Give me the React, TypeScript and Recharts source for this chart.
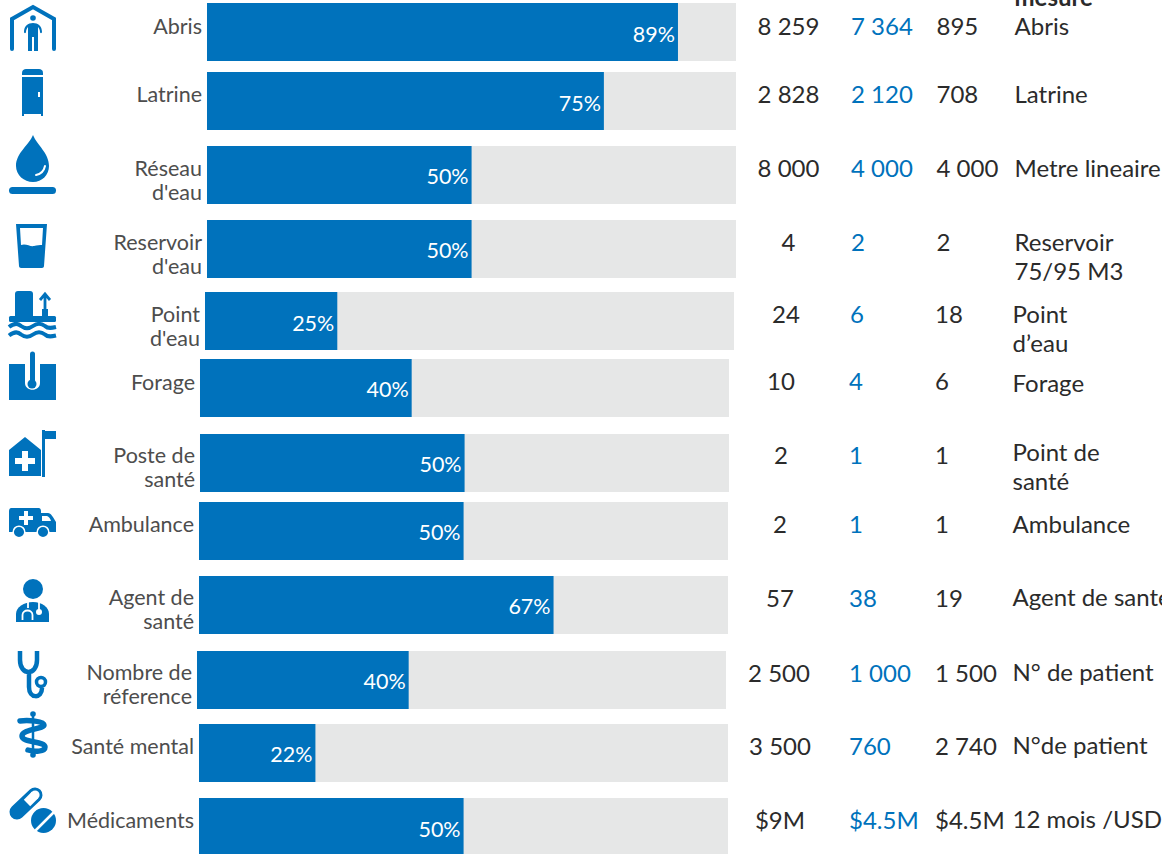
import React from 'react'
import { BarChart, Bar, XAxis, YAxis, LabelList } from 'recharts'

const categories = ['Abris','Latrine',"Réseau d'eau","Reservoir d'eau","Point d'eau",'Forage','Poste de santé','Ambulance','Agent de santé','Nombre de réference','Santé mental','Médicaments']
const labelLines = [['Abris'],['Latrine'],['Réseau',"d'eau"],['Reservoir',"d'eau"],['Point',"d'eau"],['Forage'],['Poste de','santé'],['Ambulance'],['Agent de','santé'],['Nombre de','réference'],['Santé mental'],['Médicaments']]
const percents = [89,75,50,50,25,40,50,50,67,40,22,50]
const targets = ['8 259','2 828','8 000','4','24','10','2','2','57','2 500','3 500','$9M']
const reached = ['7 364','2 120','4 000','2','6','4','1','1','38','1 000','760','$4.5M']
const remaining = ['895','708','4 000','2','18','6','1','1','19','1 500','2 740','$4.5M']
const units = [['Abris'],['Latrine'],['Metre lineaire'],['Reservoir','75/95 M3'],['Point','d’eau'],['Forage'],['Point de','santé'],['Ambulance'],['Agent de santé'],['N° de patient'],['N°de patient'],['12 mois /USD']]

// row placement, the rows are not on a regular grid in the original
const barLeft = [207,207,207,207,205,200,200,199,199,197,199,199]
const barTop = [3,72,146,220,292,359,434,502,576,651,724,798]
const barH = [58,58,58,58,58,58,58,58,58,58,58,56]
const numberY = [26,94,168,242,314,381,455,524,598,673,746,820]
const labelY = [27,95,169,243,315,383,456,525,598,673,747,821]
const targetX = [788.5,788.5,788.5,788.5,786,781,781,780,780,779,780,780]
const reachedX = [851,851,851,851,850,849,849,849,849,849,849,849]
const remainX = [936.5,936.5,936.5,936.5,935,935,935,935,935,935,935,935]
const unitX = [1014.5,1014.5,1014.5,1014.5,1012.5,1012.5,1012.5,1012.5,1012.5,1012.5,1012.5,1012.5]
const unitY = [26,94,168,242,314,383,452,524,597,672,745,819]
const pctDy = [2,2,1,1,2,1,1,1,1,1,1,3]
const BAR_W = 529.2

const BLUE = '#0072bc'
const GREY = '#e6e7e7'
const FONT = 'Lato, sans-serif'

function CategoryTick({ x, cy, lines }: any) {
  return (
    <text textAnchor="end" fontFamily={FONT} fontSize={21.5} fill="#4d4d4d">
      {lines.map((l: string, i: number) => (
        <tspan key={l} x={x + 3} y={cy + i * 24 + 7}>{l}</tspan>
      ))}
    </text>
  )
}

function Row({ i }: { i: number }) {
  const data = [{ name: categories[i], pct: percents[i] }]
  return (
    <div style={{ position: 'absolute', left: 0, top: barTop[i] }}>
      <BarChart layout="vertical" width={barLeft[i] + BAR_W} height={barH[i]} data={data} margin={{ top: 0, right: 0, bottom: 0, left: 0 }} barCategoryGap={0}>
        <XAxis type="number" domain={[0, 100]} hide />
        <YAxis type="category" dataKey="name" width={barLeft[i]} axisLine={false} tickLine={false} interval={0}
          tick={(p: any) => <CategoryTick x={p.x} cy={labelY[i] - barTop[i]} lines={labelLines[i]} />} />
        <Bar dataKey="pct" fill={BLUE} background={{ fill: GREY }} isAnimationActive={false}>
          <LabelList dataKey="pct" position="insideRight" offset={3} fill="#fff" fontSize={21.5} fontFamily={FONT} dy={pctDy[i]} formatter={(v: any) => v + '%'} />
        </Bar>
      </BarChart>
    </div>
  )
}

function Cell({ x, y, color, center, lines }: any) {
  return (
    <div style={{ position: 'absolute', left: center ? x - 60 : x, top: y - 15, width: center ? 120 : undefined, textAlign: center ? 'center' : 'left', color, fontFamily: FONT, fontSize: 24, lineHeight: '29px', whiteSpace: 'nowrap' }}>
      {lines.map((l: string) => <div key={l}>{l}</div>)}
    </div>
  )
}

function Icons() {
  return (
    <svg width={60} height={854} style={{ position: 'absolute', left: 0, top: 0 }} fill={BLUE}>
      {/* abris */}
      <path d="M12 49V19L33 7L54 19V49" fill="none" stroke={BLUE} strokeWidth={4} strokeLinecap="round" />
      <circle cx={33} cy={18} r={2.8} />
      <path d="M24 32C24 26 28 23 33 23C38 23 42 26 42 32C42 33.500 40 33.500 40 32C40 30 39 28 38 27V51H34V37H32V51H28V27C27 28 26 30 26 32C26 33.500 24 33.500 24 32Z" />
      {/* latrine */}
      <path d="M22 75V73C22 70 24 69 26 69H39C41 69 43 70 43 73V75Z" />
      <path fillRule="evenodd" d="M22 77H43V116H41V114H24V116H22ZM38 92V97H40V92Z" />
      {/* goutte */}
      <path d="M33 135C37 145 49 153 49 166C49 175 42 182 33 182C24 182 16 175 16 166C16 153 29 145 33 135Z" />
      <path d="M36 175C41 174 44 171 45 166" fill="none" stroke="#fff" strokeWidth={2} strokeLinecap="round" />
      <rect x={9} y={187} width={47} height={7} rx={3.500} />
      {/* verre */}
      <path fillRule="evenodd" d="M16 224H47L44 266C44 267 43 268 42 268H21C20 268 19 267 19 266ZM20 228L21 245C26 243 30 247 34 246C37 245 40 245 42 245L43 228Z" />
      {/* point d'eau */}
      <path d="M15 316V294C15 292 16 291 18 291H30C32 291 33 292 33 294V316Z" />
      <path d="M45 294V312M40 300L45 294L50 300" fill="none" stroke={BLUE} strokeWidth={2.800} />
      <rect x={42} y={309} width={6} height={8} />
      <rect x={9} y={316} width={47} height={6} rx={1.500} />
      <path d="M9 327C14 323 18 323 21 326C25 329 29 329 33 326C37 323 41 323 45 326C48 329 52 328 56 327" fill="none" stroke={BLUE} strokeWidth={4} />
      <path d="M9 335.500C14 331.500 18 331.500 21 334.500C25 337.500 29 337.500 33 334.500C37 331.500 41 331.500 45 334.500C48 337.500 52 336.500 56 335.500" fill="none" stroke={BLUE} strokeWidth={4} />
      {/* forage */}
      <path d="M9 364H25V383C25 392 40 392 40 383V364H56V400H9Z" />
      <path d="M32.500 354V384" fill="none" stroke={BLUE} strokeWidth={5} strokeLinecap="round" />
      <circle cx={32} cy={384} r={4.500} />
      {/* poste de sante */}
      <path fillRule="evenodd" d="M9 476V450L25 437L41 450V476ZM22 451V458H15V464H22V471H28V464H35V458H28V451Z" />
      <rect x={42} y={430} width={3} height={47} />
      <rect x={45} y={431} width={11} height={8} />
      {/* ambulance */}
      <path fillRule="evenodd" d="M12 508H38C40 508 41 509 41 511V513H48C51 513 53 517 56 522V532H9V511C9 509 10 508 12 508ZM24 511V516H19V520H24V525H28V520H33V516H28V511ZM42 516V521H51C50 518 49 517 47 516Z" />
      <circle cx={19} cy={532} r={5.800} stroke="#fff" strokeWidth={1.500} />
      <circle cx={43} cy={532} r={5.800} stroke="#fff" strokeWidth={1.500} />
      {/* agent de sante */}
      <circle cx={33} cy={589} r={10} />
      <path d="M16 622V614C16 607 24 602 33 602C42 602 49 607 49 614V622Z" />
      <path d="M28 602V608M22.500 620V615C22.500 609 32.500 609 32.500 615V620M39 602V610" fill="none" stroke="#fff" strokeWidth={1.800} />
      <circle cx={39} cy={612} r={3} fill="#fff" />
      {/* stethoscope */}
      <path d="M20 651V660C20 676 37 676 37 660V651M29 672V687C29 699 42 699 42 688" fill="none" stroke={BLUE} strokeWidth={4.500} />
      <circle cx={41} cy={682} r={4.500} fill="none" stroke={BLUE} strokeWidth={3.500} />
      {/* caducee */}
      <circle cx={33} cy={714} r={2.800} />
      <circle cx={33} cy={755} r={2.800} />
      <path d="M20 721C28 720 44 721 44 725C44 729 22 729 22 736C22 743 45 741 45 747C45 752 34 752 28 750" fill="none" stroke={BLUE} strokeWidth={5.500} strokeLinecap="round" />
      <path d="M33 714V755" stroke={BLUE} strokeWidth={2.500} />
      {/* medicaments */}
      <path d="M17 812L35 795" stroke={BLUE} strokeWidth={15} strokeLinecap="round" fill="none" />
      <path d="M27 803L35 795" stroke="#fff" strokeWidth={9} strokeLinecap="butt" fill="none" />
      <path d="M35 795L35.100 794.900" stroke="#fff" strokeWidth={9} strokeLinecap="round" fill="none" />
      <circle cx={43.500} cy={820.500} r={12.500} />
      <path d="M35 831L56 810" stroke="#fff" strokeWidth={2.500} />
    </svg>
  )
}

export default function App() {
  return (
    <div style={{ position: 'absolute', left: 0, top: 0, width: 1162, height: 854, overflow: 'hidden', background: '#fff' }}>
      <Icons />
      {categories.map((c, i) => <Row key={c} i={i} />)}
      {categories.map((c, i) => (
        <React.Fragment key={c}>
          <Cell x={targetX[i]} y={numberY[i]} color="#2b2b2b" center lines={[targets[i]]} />
          <Cell x={reachedX[i]} y={numberY[i]} color={BLUE} lines={[reached[i]]} />
          <Cell x={remainX[i]} y={numberY[i]} color="#2b2b2b" lines={[remaining[i]]} />
          <Cell x={unitX[i]} y={unitY[i]} color="#2b2b2b" lines={units[i]} />
        </React.Fragment>
      ))}
      <div style={{ position: 'absolute', left: 1014.5, top: -18, fontFamily: FONT, fontSize: 24, fontWeight: 700, lineHeight: '29px', color: '#2b2b2b' }}>mesure</div>
    </div>
  )
}
